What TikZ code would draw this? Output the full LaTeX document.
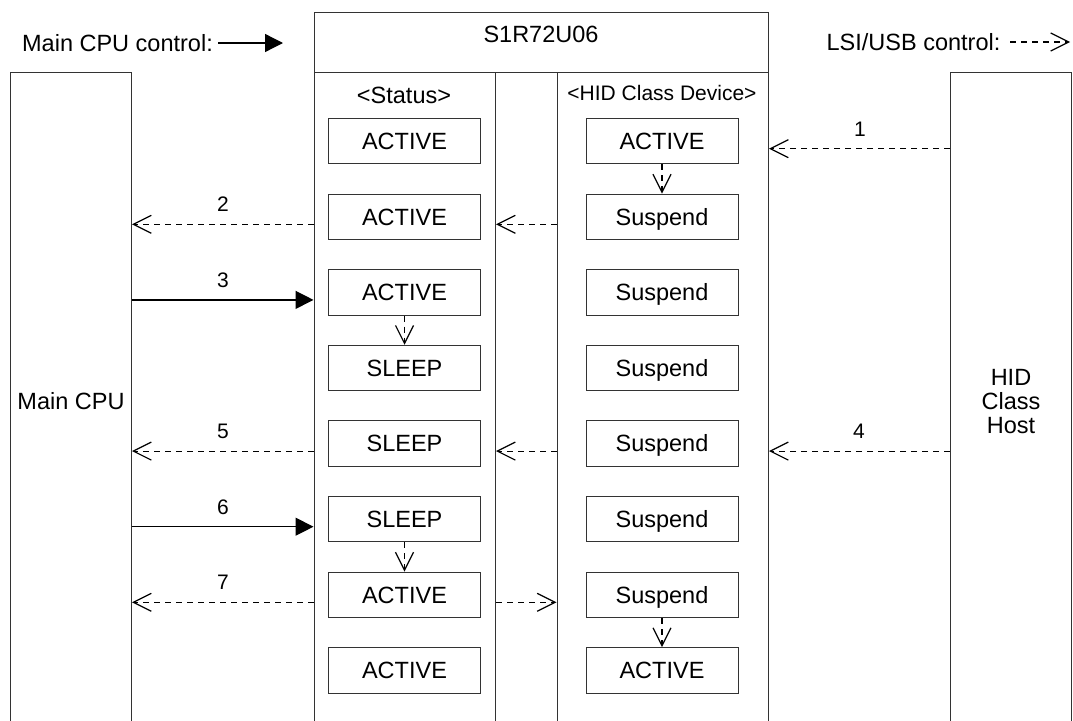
\documentclass[tikz,border=0pt]{standalone}
\usepackage{fontspec}
\setmainfont{Liberation Sans}
\usetikzlibrary{arrows.meta}
\begin{document}
\begin{tikzpicture}[x=1pt,y=-1pt,
  frame/.style={draw=black!80, line width=1pt, inner sep=0pt, anchor=north west},
  capbox/.style={text height=16.6pt, text depth=0pt},
  state/.style={draw=black!80, line width=1pt, minimum width=152pt, minimum height=45.5pt,
    inner sep=0pt, capbox, font=\fontsize{23.5}{24}\selectfont},
  txt/.style={font=\fontsize{23.5}{24}\selectfont, inner sep=0pt, capbox},
  num/.style={font=\fontsize{21}{24}\selectfont, inner sep=0pt, text height=15pt, text depth=0pt},
  cpuarrow/.style={line width=1.3pt, -{Triangle[length=18pt,width=18pt]}},
  usbarrow/.style={line width=1.2pt, dash pattern=on 6pt off 5pt,
    -{Straight Barb[length=18pt,width=18pt,line width=1.2pt]}},
]
\useasboundingbox (0,0) rectangle (1073,720);
\clip (0,0) rectangle (1073,720);

% legend
\node[txt] (legcpu) at (117.5,43) {Main CPU control:};
\coordinate (lc0) at (218,43);
\coordinate (lc1) at (283,43);
\draw[cpuarrow] (lc0) -- (lc1);
\node[txt] (legusb) at (913.5,42) {LSI/USB control:};
\coordinate (lu0) at (1010,42);
\coordinate (lu1) at (1070,42);
\draw[usbarrow] (lu0) -- (lu1);

% outer blocks (open towards the bottom edge)
\node[frame, minimum width=121pt, minimum height=658pt, capbox, font=\fontsize{23.5}{24}\selectfont]
  (cpu) at (10,72) {Main CPU};
\node[frame, minimum width=121pt, minimum height=658pt, align=center,
  font=\fontsize{23.5}{24}\selectfont] (host) at (950,72) {HID\\Class\\Host};
\node[frame, minimum width=454.5pt, minimum height=60pt] (chip) at (313.5,12) {};
\node[txt] (title) at (541,34.5) {S1R72U06};
\node[frame, minimum width=181.5pt, minimum height=658pt] (stcol) at (313.5,72) {};
\node[frame, minimum width=211.5pt, minimum height=658pt] (hidcol) at (556.5,72) {};
\node[txt] (sthead) at (404,95) {<Status>};
\node[num] (hidhead) at (662,93) {<HID Class Device>};

% state boxes
\foreach \i/\s/\h in {1/ACTIVE/ACTIVE, 2/ACTIVE/Suspend, 3/ACTIVE/Suspend,
    4/SLEEP/Suspend, 5/SLEEP/Suspend, 6/SLEEP/Suspend, 7/ACTIVE/Suspend, 8/ACTIVE/ACTIVE} {
  \node[state] (s\i) at (404.5,{141.2+75.6*(\i-1)}) {\s};
  \node[state] (h\i) at (662,{141.2+75.6*(\i-1)}) {\h};
  \coordinate (r\i) at (0,{148.7+75.6*(\i-1)});
}

% transitions inside the chip
\draw[usbarrow] (h1.south) -- (h2.north);
\draw[usbarrow] (s3.south) -- (s4.north);
\draw[usbarrow] (s6.south) -- (s7.north);
\draw[usbarrow] (h7.south) -- (h8.north);

% step 1
\draw[usbarrow] (host.west |- r1) -- (hidcol.east |- r1);
\node[num] (n1) at (860,{148.7-20}) {1};
% step 2
\draw[usbarrow] (hidcol.west |- r2) -- (stcol.east |- r2);
\draw[usbarrow] (stcol.west |- r2) -- (cpu.east |- r2);
\node[num] (n2) at (223,{224.3-20}) {2};
% step 3
\draw[cpuarrow] (cpu.east |- r3) -- (stcol.west |- r3);
\node[num] (n3) at (223,{299.9-20}) {3};
% step 4
\draw[usbarrow] (host.west |- r5) -- (hidcol.east |- r5);
\node[num] (n4) at (859,{451.1-20}) {4};
% step 5
\draw[usbarrow] (hidcol.west |- r5) -- (stcol.east |- r5);
\draw[usbarrow] (stcol.west |- r5) -- (cpu.east |- r5);
\node[num] (n5) at (223,{451.1-20}) {5};
% step 6
\draw[cpuarrow] (cpu.east |- r6) -- (stcol.west |- r6);
\node[num] (n6) at (223,{526.7-20}) {6};
% step 7
\draw[usbarrow] (stcol.west |- r7) -- (cpu.east |- r7);
\draw[usbarrow] (stcol.east |- r7) -- (hidcol.west |- r7);
\node[num] (n7) at (223,{602.3-20}) {7};
\end{tikzpicture}
\end{document}
